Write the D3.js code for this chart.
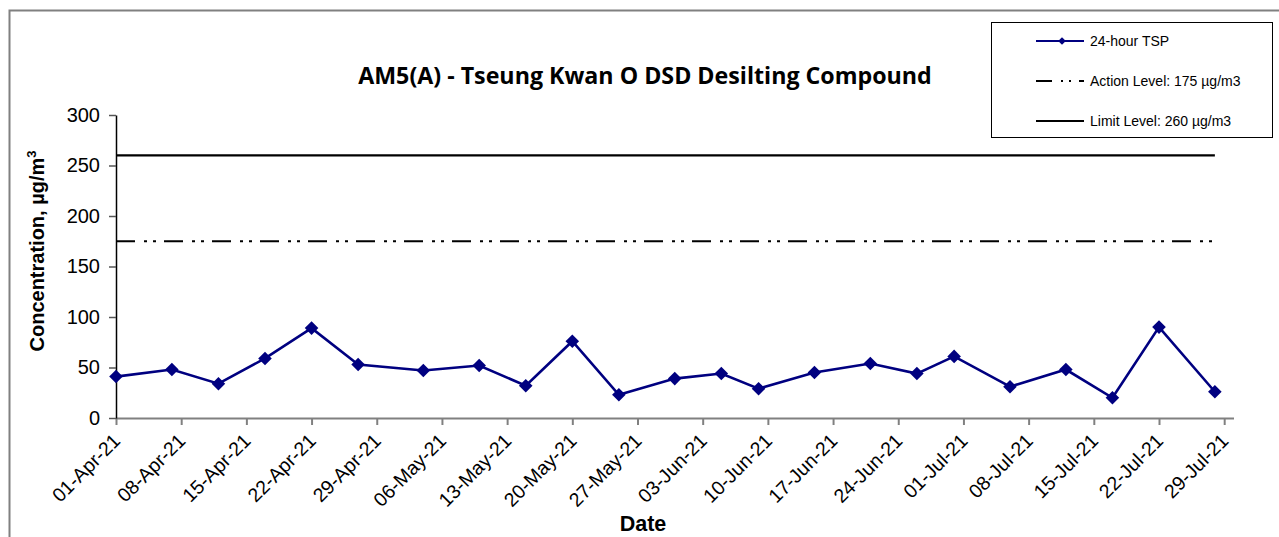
<!DOCTYPE html>
<html>
<head>
<meta charset="utf-8">
<script src="https://cdn.jsdelivr.net/npm/d3@7"></script>
<style>
  body { margin: 0; background: #fff; }
  svg { display: block; }
</style>
</head>
<body>
<div class="chart"></div>
<script>
var svgWidth = 1279;
var svgHeight = 537;
var axisFont = "'Liberation Sans', Arial, sans-serif";

// Data
var sampleDates = ["2021-04-01", "2021-04-07", "2021-04-12", "2021-04-17", "2021-04-22", "2021-04-27",
  "2021-05-04", "2021-05-10", "2021-05-15", "2021-05-20", "2021-05-25", "2021-05-31",
  "2021-06-05", "2021-06-09", "2021-06-15", "2021-06-21", "2021-06-26", "2021-06-30",
  "2021-07-06", "2021-07-12", "2021-07-17", "2021-07-22", "2021-07-28"];
var tspValues = [41, 48, 34, 59, 89, 53, 47, 52, 32, 76, 23, 39, 44, 29, 45, 54, 44, 61, 31, 48, 20, 90, 26];
var actionLevel = 175;
var limitLevel = 260;
var yTicks = [0, 50, 100, 150, 200, 250, 300];
var legendLabels = ["24-hour TSP", "Action Level: 175 \u00b5g/m3", "Limit Level: 260 \u00b5g/m3"];

var parseDate = d3.timeParse("%Y-%m-%d");
var formatDate = d3.timeFormat("%d-%b-%y");

var tsp = sampleDates.map(function(d, i) {
  return { date: parseDate(d), value: tspValues[i] };
});

var svg = d3.select(".chart")
  .append("svg")
  .attr("width", svgWidth)
  .attr("height", svgHeight)
  .attr("font-family", axisFont);

// outer frame (only left and top edges visible)
svg.append("path")
  .attr("d", "M9.5,537 L9.5,10.5 L1279,10.5")
  .attr("fill", "none")
  .attr("stroke", "#808080")
  .attr("stroke-width", 2);

// Scales
var xScale = d3.scaleTime()
  .domain([parseDate("2021-04-01"), parseDate("2021-07-30")])
  .range([116, 1233.5]);

var yScale = d3.scaleLinear()
  .domain([0, 300])
  .range([418, 115]);

// weekly ticks, 01-Apr to 29-Jul
var xTicks = d3.range(0, 18).map(function(i) { return d3.timeDay.offset(parseDate("2021-04-01"), i * 7); });

// Axes
var bottomAxis = d3.axisBottom(xScale)
  .tickValues(xTicks)
  .tickSizeInner(7)
  .tickSizeOuter(0)
  .tickFormat("");

var xAxis = svg.append("g")
  .attr("transform", "translate(0,418)")
  .call(bottomAxis);
xAxis.select(".domain").attr("stroke", "#808080").attr("stroke-width", 2);
xAxis.selectAll(".tick line").attr("stroke", "#808080").attr("stroke-width", 2);

xAxis.selectAll(".tick")
  .append("text")
  .attr("fill", "#000")
  .attr("font-size", 19.5)
  .attr("font-family", axisFont)
  .attr("text-anchor", "end")
  .attr("transform", "translate(5,24) rotate(-45)")
  .text(function(d) { return formatDate(d); });

var leftAxis = d3.axisLeft(yScale)
  .tickValues(yTicks)
  .tickSizeInner(7)
  .tickSizeOuter(0)
  .tickPadding(9);

var yAxis = svg.append("g")
  .attr("transform", "translate(116,0)")
  .call(leftAxis);
yAxis.select(".domain").attr("stroke", "#000").attr("stroke-width", 1.5);
yAxis.selectAll(".tick line").attr("stroke", "#555").attr("stroke-width", 1.5);
yAxis.selectAll(".tick text").attr("font-size", 20).attr("fill", "#000")
  .attr("font-family", axisFont);

// Level lines
var levelX0 = xScale(tsp[0].date);
var levelX1 = xScale(tsp[tsp.length - 1].date);

svg.append("line")
  .attr("x1", levelX0).attr("x2", levelX1)
  .attr("y1", yScale(limitLevel)).attr("y2", yScale(limitLevel))
  .attr("stroke", "#000")
  .attr("stroke-width", 2.2);

svg.append("line")
  .attr("x1", levelX0).attr("x2", levelX1)
  .attr("y1", yScale(actionLevel)).attr("y2", yScale(actionLevel))
  .attr("stroke", "#000")
  .attr("stroke-width", 2.2)
  .attr("stroke-dasharray", "19,9,3,6,3,8");

// TSP line
var line = d3.line()
  .x(function(d) { return xScale(d.date); })
  .y(function(d) { return yScale(d.value); });

svg.append("path")
  .datum(tsp)
  .attr("d", line)
  .attr("fill", "none")
  .attr("stroke", "#000080")
  .attr("stroke-width", 2.6);

var diamond = d3.symbol().type(d3.symbolSquare).size(92);

svg.selectAll(".marker")
  .data(tsp)
  .enter()
  .append("path")
  .attr("class", "marker")
  .attr("d", diamond)
  .attr("transform", function(d) { return "translate(" + xScale(d.date) + "," + yScale(d.value) + ") rotate(45)"; })
  .attr("fill", "#000080");

// Title
var title = svg.append("text")
  .attr("x", 645)
  .attr("y", 84)
  .attr("text-anchor", "middle")
  .style("font-family", "'Open Sans', sans-serif")
  .attr("font-weight", "bold")
  .attr("font-size", 20)
  .text("AM5(A) - Tseung Kwan O DSD Desilting Compound");
var tw = title.node().getComputedTextLength();
title.attr("font-size", 20 * 574 / tw);

// Axis labels
var yLabel = svg.append("text")
  .attr("transform", "translate(44,251) rotate(-90)")
  .attr("text-anchor", "middle")
  .attr("font-weight", "bold")
  .attr("font-size", 20);
yLabel.append("tspan").text("Concentration, \u00b5g/m");
yLabel.append("tspan").attr("font-size", 13).attr("dy", -8).text("3");

svg.append("text")
  .attr("x", 643)
  .attr("y", 531)
  .attr("text-anchor", "middle")
  .attr("font-weight", "bold")
  .attr("font-size", 21.5)
  .text("Date");

// Legend
var legend = svg.append("g");
legend.append("rect")
  .attr("x", 991.5).attr("y", 22.5)
  .attr("width", 281).attr("height", 115)
  .attr("fill", "#fff")
  .attr("stroke", "#000")
  .attr("stroke-width", 1);

var legendY = [41, 81, 121];
var legendItems = legend.selectAll(".item")
  .data(legendLabels)
  .enter()
  .append("g")
  .attr("transform", function(d, i) { return "translate(0," + legendY[i] + ")"; });

legendItems.append("line")
  .attr("x1", 1036).attr("x2", 1084)
  .attr("y1", 0).attr("y2", 0)
  .attr("stroke", function(d, i) { return i === 0 ? "#000080" : "#000"; })
  .attr("stroke-width", 2.2)
  .attr("stroke-dasharray", function(d, i) { return i === 1 ? "16,9,2,6,2,8" : null; });

legend.append("path")
  .attr("d", d3.symbol().type(d3.symbolSquare).size(30))
  .attr("transform", "translate(1062," + legendY[0] + ") rotate(45)")
  .attr("fill", "#000080");

legendItems.append("text")
  .attr("x", 1090)
  .attr("y", 4.5)
  .attr("font-size", 14)
  .text(function(d) { return d; });
</script>
</body>
</html>
